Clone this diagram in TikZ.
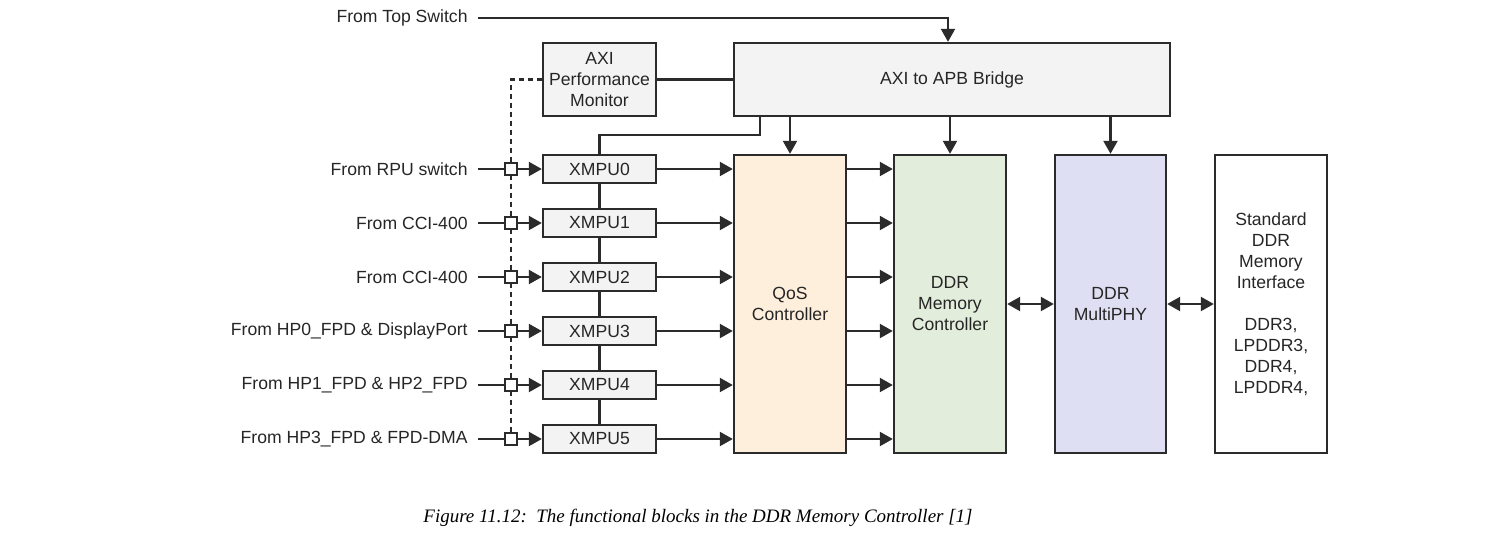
\documentclass[tikz,border=0pt]{standalone}
\usepackage{fontspec}
\setmainfont{Liberation Sans}
\newfontfamily\capfont{Liberation Serif}
\usetikzlibrary{arrows.meta,calc}
\definecolor{ln}{HTML}{2B2B2B}
\definecolor{txt}{HTML}{262626}
\definecolor{boxgray}{HTML}{F3F3F3}
\definecolor{qosfill}{HTML}{FDEFDB}
\definecolor{mcfill}{HTML}{E2EEDB}
\definecolor{phyfill}{HTML}{DFDFF3}
\tikzset{
  box/.style={draw=ln, line width=1.2pt, fill=boxgray, text=txt, align=center, inner sep=0pt, minimum width=56.5pt},
  xmpu/.style={box, minimum height=14pt},
  big/.style={draw=ln, line width=1.2pt, text=txt, align=center, inner sep=0pt, minimum width=56pt, minimum height=149pt},
  conn/.style={draw=ln, line width=1.1pt},
  arr/.style={conn, -{Triangle[length=6.5pt,width=7pt]}},
  darr/.style={conn, {Triangle[length=6.5pt,width=7pt]}-{Triangle[length=6.5pt,width=7pt]}},
  lbl/.style={anchor=east, inner sep=0pt, text=txt},
  sq/.style={draw=ln, fill=white, line width=1.1pt, minimum size=6pt, inner sep=0pt},
}
\begin{document}
\begin{tikzpicture}[x=0.5pt,y=-0.5pt,font=\fontsize{8.8}{10.5}\selectfont]
\useasboundingbox[fill=white] (0,0) rectangle (1512,548);
% top blocks
\node[box, minimum height=36.5pt] (apm) at (599.5,79.5) {AXI\\Performance\\Monitor};
\node[box, minimum width=218pt, minimum height=36.5pt] (bridge) at (952,79.5) {AXI to APB Bridge};
% big blocks
\node[big, fill=qosfill] (qos) at (790,304) {QoS\\Controller};
\node[big, fill=mcfill] (mc) at (950,304) {DDR\\Memory\\Controller};
\node[big, fill=phyfill, minimum width=55.5pt] (phy) at (1110.5,304) {DDR\\MultiPHY};
\node[big, fill=white] (std) at (1271,304) {Standard\\DDR\\Memory\\Interface\\[10.5pt]DDR3,\\LPDDR3,\\DDR4,\\LPDDR4,};
% top switch
\node[lbl] (tl) at (468,18) {From Top Switch};
\coordinate (tsc) at (948,18);
\draw[arr] ([xshift=5pt]tl.east) -- (tsc) -- (tsc |- bridge.north);
% apm to bridge
\draw[conn] (apm.east) -- (apm.east -| bridge.west);
% dashed monitor line
\coordinate (dtop) at (511,79.5);
\coordinate (dbot) at (511,439);
\draw[conn, dash pattern=on 2.5pt off 2pt] (apm.west) -- (dtop) -- (dbot);
% rows
\foreach \i/\t in {0/From RPU switch,1/From CCI-400,2/From CCI-400,3/From HP0\_FPD \& DisplayPort,4/From HP1\_FPD \& HP2\_FPD,5/From HP3\_FPD \& FPD-DMA}{
  \node[lbl] (l\i) at (468,169+54*\i) {\t};
  \node[sq] (s\i) at (511,169+54*\i) {};
  \node[xmpu] (x\i) at (599.5,169+54*\i) {XMPU\i};
  \draw[conn] ([xshift=5pt]l\i.east) -- (s\i.west);
  \draw[arr] (s\i.east) -- (x\i.west);
  \draw[arr] (x\i.east) -- (x\i.east -| qos.west);
  \draw[arr] (x\i.east -| qos.east) -- (x\i.east -| mc.west);
}
\foreach \a/\b in {0/1,1/2,2/3,3/4,4/5}{
  \draw[conn] (x\a.south) -- (x\b.north);
}
% bridge to xmpu0
\coordinate (bk) at (760,135);
\draw[conn] (bk |- bridge.south) -- (bk) -- (bk -| x0.north) -- (x0.north);
% bridge down arrows
\draw[arr] (bridge.south -| qos.north) -- (qos.north);
\draw[arr] (bridge.south -| mc.north) -- (mc.north);
\draw[arr] (bridge.south -| phy.north) -- (phy.north);
% bidirectional
\draw[darr] (mc.east) -- (phy.west);
\draw[darr] (phy.east) -- (std.west);
% caption
\node[text=black] (cap) at (698,518) {\capfont\itshape\fontsize{9.5}{12}\selectfont Figure 11.12:\ \ The functional blocks in the DDR Memory Controller [1]};
\end{tikzpicture}
\end{document}
